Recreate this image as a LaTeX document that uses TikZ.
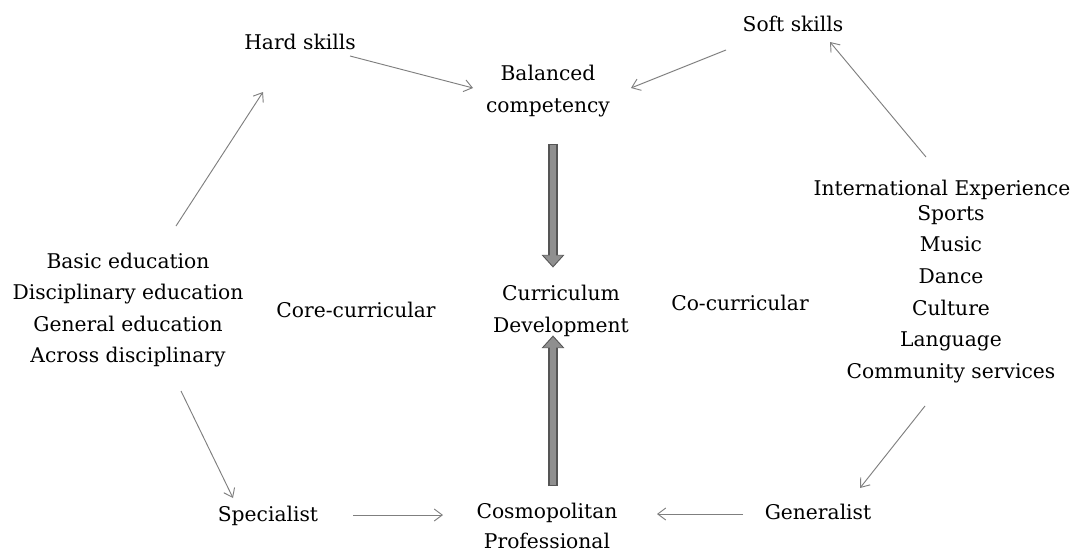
\documentclass[tikz,border=0pt]{standalone}
\usepackage{fontspec}
\setmainfont{DejaVu Serif}
\usetikzlibrary{arrows.meta,calc}
\definecolor{thin}{HTML}{7F7F7F}
\definecolor{bigfill}{HTML}{8F8F8F}
\definecolor{bigedge}{HTML}{555555}
\tikzset{
  lbl/.style={inner sep=0pt, align=center, font=\fontsize{15.2pt}{23.4pt}\selectfont},
  thinarrow/.style={draw=thin, line width=0.7pt, -{Straight Barb[length=6pt,width=9pt]}},
  bigarrow/.style={draw=bigfill, line width=5pt, -{Triangle[length=8pt,width=14pt]},
    preaction={draw=bigedge, line width=7pt, -{Triangle[length=9.5pt,width=16.5pt]}, shorten >=-1.2pt, shorten <=-0.8pt}}
}
\begin{document}
\begin{tikzpicture}[x=0.75pt,y=-0.75pt]
\useasboundingbox (0,0) rectangle (1076,553);
\node[lbl] (hard) at (300,42) {Hard skills};
\node[lbl] (bal) at (548,91) {Balanced\\competency};
\node[lbl] (soft) at (793,24) {Soft skills};
\node[lbl] (intl) at (942,190) {International Experience};
\node[lbl, font=\fontsize{15.2pt}{23.7pt}\selectfont] (rlist) at (951,294) {Sports\\Music\\Dance\\Culture\\Language\\Community services};
\node[lbl] (llist) at (128,310) {Basic education\\Disciplinary education\\General education\\Across disciplinary};
\node[lbl] (core) at (356,310) {Core-curricular};
\node[lbl] (cd) at (561,311) {Curriculum\\Development};
\node[lbl] (co) at (740,303) {Co-curricular};
\node[lbl] (spec) at (268,516) {Specialist};
\node[lbl, font=\fontsize{15.2pt}{22.6pt}\selectfont] (cosmo) at (547,526) {Cosmopolitan\\Professional};
\node[lbl] (gen) at (818,512) {Generalist};

\draw[thinarrow] ($(hard)+(50,14)$) -- ($(bal)+(-75,-3)$);
\draw[thinarrow] ($(soft)+(-67,26)$) -- ($(bal)+(83,-3)$);
\draw[thinarrow] ($(intl)+(-16,-33)$) -- ($(soft)+(37,18)$);
\draw[thinarrow] ($(llist)+(48,-84)$) -- ($(hard)+(-37,50)$);
\draw[thinarrow] ($(llist)+(53,81)$) -- ($(spec)+(-35,-18)$);
\draw[thinarrow] ($(spec)+(85,-1)$) -- ($(cosmo)+(-104,-11)$);
\draw[thinarrow] ($(gen)+(-75,2)$) -- ($(cosmo)+(110,-12)$);
\draw[thinarrow] ($(rlist)+(-26,112)$) -- ($(gen)+(42,-24)$);

\draw[bigarrow] ($(bal)+(5,54)$) -- ($(cd)+(-8,-45)$);
\draw[bigarrow] ($(cosmo)+(6,-41)$) -- ($(cd)+(-8,26)$);
\end{tikzpicture}
\end{document}
